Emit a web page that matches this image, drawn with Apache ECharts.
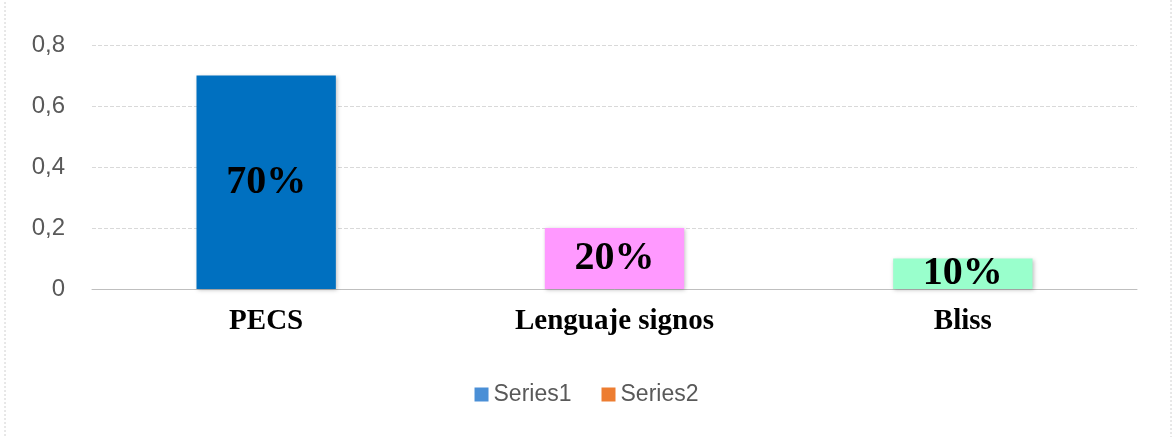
<!DOCTYPE html>
<html>
<head>
<meta charset="utf-8">
<script src="https://cdn.jsdelivr.net/npm/echarts@6/dist/echarts.min.js"></script>
<style>
  html, body { margin: 0; padding: 0; background: #fff; }
  #chart { width: 1173px; height: 437px; }
</style>
</head>
<body>
<div id="chart"></div>
<script>
const categories = ['PECS', 'Lenguaje signos', 'Bliss']
const series1 = [0.7, 0.2, 0.1]
const barColors = ['#0070C0', '#FF99FF', '#99FFCC']
const yTicks = { min: 0, max: 0.8, interval: 0.2 }

const chart = echarts.init(document.getElementById('chart'))
chart.setOption({
  animation: false,
  graphic: [{
    type: 'rect',
    shape: { x: 5, y: -2, width: 1166, height: 441 },
    style: { fill: 'none', stroke: '#D0D0D0', lineWidth: 1, lineDash: [2, 2] },
    silent: true
  }],
  grid: { left: 92, right: 36, top: 45, bottom: 148 },
  legend: {
    data: ['Series1', 'Series2'],
    top: 378,
    left: 'center',
    itemWidth: 14,
    itemHeight: 14,
    itemGap: 30,
    icon: 'rect',
    textStyle: { color: '#595959', fontSize: 23, fontFamily: 'Liberation Sans' }
  },
  xAxis: {
    type: 'category',
    data: categories,
    axisTick: { show: false },
    axisLine: { lineStyle: { color: '#BFBFBF' } },
    axisLabel: {
      margin: 18,
      color: '#000',
      fontSize: 29,
      fontWeight: 'bold',
      fontFamily: 'Liberation Serif'
    }
  },
  yAxis: {
    type: 'value',
    min: yTicks.min,
    max: yTicks.max,
    interval: yTicks.interval,
    axisLine: { show: false },
    axisTick: { show: false },
    splitLine: { lineStyle: { color: '#D9D9D9', type: 'dashed' } },
    axisLabel: {
      margin: 27,
      color: '#595959',
      fontSize: 24,
      fontFamily: 'Liberation Sans',
      formatter: v => String(Math.round(v * 10) / 10).replace('.', ',')
    }
  },
  series: [
    {
      name: 'Series1',
      type: 'bar',
      barWidth: '40%',
      color: '#4A8FD6',
      data: series1.map((v, i) => ({ value: v, itemStyle: { color: barColors[i] } })),
      itemStyle: { shadowColor: 'rgba(0,0,0,0.25)', shadowBlur: 4, shadowOffsetX: 1, shadowOffsetY: 1 },
      label: {
        show: true,
        position: 'inside',
        color: '#000',
        fontSize: 40,
        fontWeight: 'bold',
        fontFamily: 'Liberation Serif',
        formatter: p => Math.round(p.value * 100) + '%'
      }
    },
    {
      name: 'Series2',
      type: 'bar',
      barWidth: '40%',
      barGap: '-100%',
      color: '#ED7D31',
      data: []
    }
  ]
})
</script>
</body>
</html>
